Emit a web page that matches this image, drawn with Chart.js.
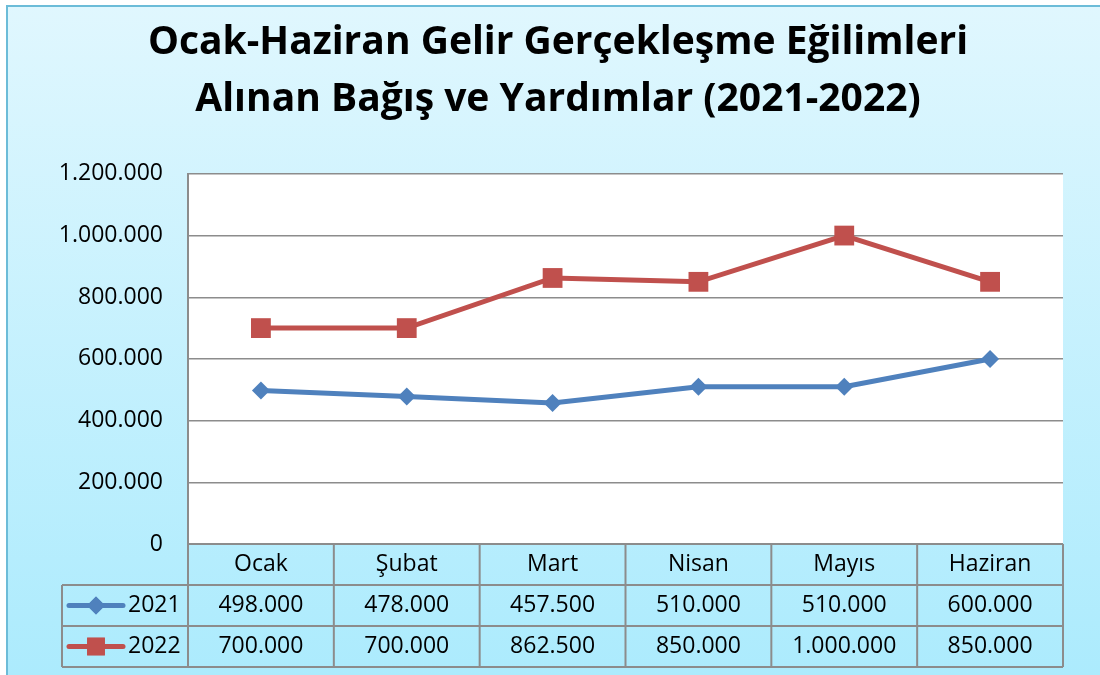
<!DOCTYPE html>
<html>
<head>
<meta charset="utf-8">
<script src="https://cdn.jsdelivr.net/npm/chart.js@4.4.1/dist/chart.umd.min.js"></script>
<style>
  html, body { margin: 0; padding: 0; background: #fff; }
  #wrap { width: 1100px; height: 675px; }
</style>
</head>
<body>
<div id="wrap"><canvas id="chart" width="1100" height="675"></canvas></div>
<script>
const months = ["Ocak", "Şubat", "Mart", "Nisan", "Mayıs", "Haziran"];
const gelir2021 = [498000, 478000, 457500, 510000, 510000, 600000];
const gelir2022 = [700000, 700000, 862500, 850000, 1000000, 850000];
const seriesNames = ["2021", "2022"];
const titleLines = ["Ocak-Haziran Gelir Gerçekleşme Eğilimleri", "Alınan Bağış ve Yardımlar (2021-2022)"];
const yMax = 1200000;
const yStep = 200000;

const BLUE = "#4f81bd";
const RED = "#c0504d";
const GRID = "#8c8c8c";
const FONT = "'Open Sans', 'DejaVu Sans', sans-serif";

// Turkish thousands separator
const fmt = (v) => String(v).replace(/\B(?=(\d{3})+(?!\d))/g, ".");

const backgroundPlugin = {
  id: "background",
  beforeDraw(chart) {
    const { ctx, width, height, chartArea } = chart;
    ctx.save();
    ctx.fillStyle = "#fff";
    ctx.fillRect(0, 0, width, height);
    const g = ctx.createLinearGradient(0, 6, 0, height);
    g.addColorStop(0, "#e0f7fe");
    g.addColorStop(1, "#acebfd");
    ctx.fillStyle = g;
    ctx.fillRect(7, 6, width - 7, height - 6);
    ctx.strokeStyle = "#6cbcd8";
    ctx.lineWidth = 2;
    ctx.strokeRect(7, 6, width, height);
    ctx.fillStyle = "#fff";
    ctx.fillRect(chartArea.left, chartArea.top, chartArea.right - chartArea.left, chartArea.bottom - chartArea.top);
    ctx.restore();
  }
};

// data table under the plot, columns follow the x scale
const dataTablePlugin = {
  id: "dataTable",
  afterDraw(chart) {
    const { ctx, chartArea, scales } = chart;
    const x = scales.x;
    const rowH = 41;
    const top = chartArea.bottom;
    const left = chartArea.left;
    const right = chartArea.right;
    const legendLeft = 62;
    const colW = (right - left) / months.length;
    const rows = [gelir2021, gelir2022];

    ctx.save();
    ctx.strokeStyle = GRID;
    ctx.lineWidth = 2;
    ctx.beginPath();
    ctx.moveTo(left, top); ctx.lineTo(right, top);
    for (let r = 1; r <= 3; r++) {
      ctx.moveTo(legendLeft, top + r * rowH); ctx.lineTo(right, top + r * rowH);
    }
    ctx.moveTo(legendLeft, top + rowH); ctx.lineTo(legendLeft, top + 3 * rowH);
    for (let i = 0; i <= months.length; i++) {
      ctx.moveTo(left + i * colW, top); ctx.lineTo(left + i * colW, top + 3 * rowH);
    }
    ctx.stroke();

    ctx.fillStyle = "#000";
    ctx.font = "23px " + FONT;
    ctx.textAlign = "center";
    ctx.textBaseline = "middle";
    months.forEach((m, i) => ctx.fillText(m, x.getPixelForValue(i), top + rowH / 2));
    rows.forEach((vals, r) => {
      const cy = top + (r + 1.5) * rowH;
      vals.forEach((v, i) => ctx.fillText(fmt(v), x.getPixelForValue(i), cy));
    });

    // legend keys
    chart.data.datasets.forEach((ds, r) => {
      const cy = top + (r + 1.5) * rowH;
      ctx.strokeStyle = ds.borderColor;
      ctx.lineWidth = 5;
      ctx.lineCap = "round";
      ctx.beginPath();
      ctx.moveTo(69, cy); ctx.lineTo(123, cy);
      ctx.stroke();
      ctx.fillStyle = ds.borderColor;
      Chart.helpers.drawPoint(ctx, { pointStyle: ds.pointStyle, radius: r === 0 ? 9 : 12.5, rotation: 0, borderWidth: 0 }, 96, cy);
      ctx.fill();
      ctx.fillStyle = "#000";
      ctx.textAlign = "left";
      ctx.fillText(seriesNames[r], 128, cy);
    });
    ctx.restore();
  }
};

new Chart(document.getElementById("chart").getContext("2d"), {
  type: "line",
  data: {
    labels: months,
    datasets: [
      {
        label: seriesNames[0],
        data: gelir2021,
        borderColor: BLUE,
        backgroundColor: BLUE,
        borderWidth: 5,
        pointStyle: "rectRot",
        pointRadius: 9,
        pointHoverRadius: 9,
        pointBorderWidth: 0
      },
      {
        label: seriesNames[1],
        data: gelir2022,
        borderColor: RED,
        backgroundColor: RED,
        borderWidth: 5,
        pointStyle: "rect",
        pointRadius: 14,
        pointHoverRadius: 14,
        pointBorderWidth: 0
      }
    ]
  },
  options: {
    responsive: false,
    animation: false,
    layout: { padding: { top: 0, left: 53, right: 37, bottom: 131 } },
    plugins: {
      legend: { display: false },
      tooltip: { enabled: false },
      title: {
        display: true,
        text: titleLines,
        color: "#000",
        font: { family: FONT, size: 39, weight: "bold", lineHeight: 1.46 },
        padding: { top: 14, bottom: 46 }
      }
    },
    scales: {
      x: {
        offset: true,
        grid: { display: false, drawTicks: false },
        border: { display: false },
        ticks: { display: false },
        afterFit: (s) => { s.height = 0; }
      },
      y: {
        min: 0,
        max: yMax,
        ticks: {
          stepSize: yStep,
          padding: 25,
          color: "#000",
          font: { family: FONT, size: 23 },
          callback: (v) => fmt(v)
        },
        grid: { color: GRID, lineWidth: 1.5, drawTicks: false },
        border: { display: true, color: GRID, width: 2 },
        afterFit: (s) => { s.width = 135; }
      }
    }
  },
  plugins: [backgroundPlugin, dataTablePlugin]
});
</script>
</body>
</html>
